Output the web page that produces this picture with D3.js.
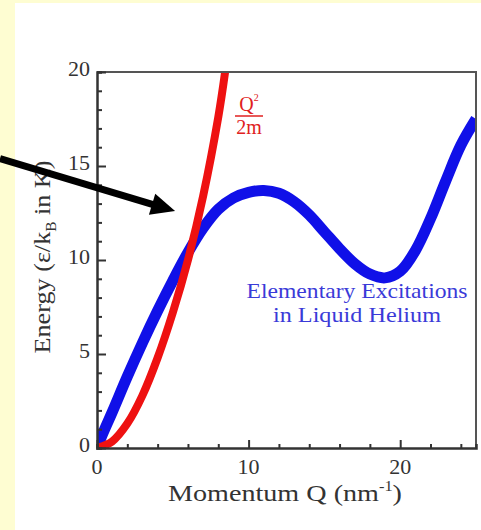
<!DOCTYPE html>
<html>
<head>
    <title>Elementary Excitations in Liquid Helium</title>
    <script src="https://d3js.org/d3.v7.min.js"></script>
    <style>
        body {
            margin: 0;
            background-color: #fefdd2;
        }
        #chart {
            position: absolute;
            left: 15px;
            top: 3px;
            width: 466px;
            height: 527px;
            background-color: white;
        }
        svg {
            position: absolute;
            left: 0;
            top: 0;
        }
        text {
            font-family: "Liberation Serif", "DejaVu Serif", serif;
        }
    </style>
</head>
<body>
    <div id="chart"></div>
    <svg id="plot" width="481" height="530"></svg>
    <script>
        // Data
        const rotonQ = [0, 0.4, 1, 2, 3, 4, 5, 6, 7, 8, 9, 10, 11, 12, 13, 14, 15, 16, 17, 18, 19, 20, 21, 22, 23, 24, 25];
        const rotonE = [0, 0.8, 1.9, 3.8, 5.6, 7.3, 8.9, 10.4, 11.7, 12.7, 13.3, 13.6, 13.7, 13.55, 13.1, 12.4, 11.5, 10.6, 9.8, 9.25, 9.05, 9.4, 10.5, 12.2, 14.2, 16.1, 17.5];
        const freeQ = [0, 1, 2, 3, 4, 5, 6, 7, 8, 8.45];
        const freeE = [0, 0.35, 1.3, 2.8, 4.8, 7.2, 10.0, 13.4, 17.6, 20];
        const xTicks = [0, 10, 20];
        const yTicks = [0, 5, 10, 15, 20];
        const arrowQ = [-6.4, 5.15];
        const arrowE = [15.4, 12.6];

        const margin = {left: 97, top: 72, right: 5, bottom: 82};
        const W = 481, H = 530;

        const x = d3.scaleLinear().domain([0, 25]).range([margin.left, W - margin.right]);
        const y = d3.scaleLinear().domain([0, 20]).range([H - margin.bottom, margin.top]);

        const svg = d3.select('#plot');

        // clip for curves
        svg.append('defs').append('clipPath').attr('id', 'clip')
            .append('rect')
            .attr('x', x(0)).attr('y', y(20))
            .attr('width', x(25) - x(0)).attr('height', y(0) - y(20));

        const line = d3.line()
            .x(d => x(d[0]))
            .y(d => y(d[1]))
            .curve(d3.curveCatmullRom);

        const curves = svg.append('g').attr('clip-path', 'url(#clip)');

        curves.append('path')
            .datum(rotonQ.map((q, i) => [q, rotonE[i]]))
            .attr('d', line)
            .attr('fill', 'none')
            .attr('stroke', '#1010e8')
            .attr('stroke-width', 11);

        curves.append('path')
            .datum(freeQ.map((q, i) => [q, freeE[i]]))
            .attr('d', line)
            .attr('fill', 'none')
            .attr('stroke', '#ee1111')
            .attr('stroke-width', 8);

        // frame: top and right
        svg.append('path')
            .attr('d', `M${x(0)},${y(20)}H${x(25)}V${y(0)}`)
            .attr('fill', 'none')
            .attr('stroke', '#555')
            .attr('stroke-width', 2);

        // axes with inward ticks
        const xAxis = d3.axisTop(x).tickValues(d3.range(0, 26, 2)).tickSize(4).tickFormat('');
        const gx = svg.append('g').attr('transform', `translate(0,${y(0)})`).call(xAxis);
        gx.selectAll('.tick line').filter(d => d % 10 === 0).attr('y2', -8);

        const yAxis = d3.axisRight(y).tickValues(d3.range(0, 21, 1)).tickSize(5).tickFormat('');
        const gy = svg.append('g').attr('transform', `translate(${x(0)},0)`).call(yAxis);
        gy.selectAll('.tick line').filter(d => d % 5 === 0).attr('x2', 9);

        [gx, gy].forEach(g => {
            g.select('.domain').attr('stroke', '#333').attr('stroke-width', 2.5);
            g.selectAll('.tick line').attr('stroke', '#333').attr('stroke-width', 2);
        });

        // tick labels
        svg.append('g').selectAll('text')
            .data(xTicks)
            .enter()
            .append('text')
            .attr('x', d => x(d))
            .attr('y', y(0) + 26)
            .attr('text-anchor', 'middle')
            .attr('font-size', 22)
            .attr('fill', '#333')
            .text(d => d);

        svg.append('g').selectAll('text')
            .data(yTicks)
            .enter()
            .append('text')
            .attr('x', x(0) - 7)
            .attr('y', d => y(d) + 4)
            .attr('text-anchor', 'end')
            .attr('font-size', 22)
            .attr('fill', '#333')
            .text(d => d);

        // axis titles
        const xt = svg.append('text')
            .attr('x', 285)
            .attr('y', 501)
            .attr('text-anchor', 'middle')
            .attr('font-size', 24)
            .attr('fill', '#333')
            .attr('textLength', 234)
            .attr('lengthAdjust', 'spacingAndGlyphs');
        xt.append('tspan').text('Momentum Q (nm');
        xt.append('tspan').attr('font-size', 14).attr('dy', -10).text('-1');
        xt.append('tspan').attr('dy', 10).text(')');

        const yt = svg.append('text')
            .attr('transform', 'translate(50,257) rotate(-90)')
            .attr('text-anchor', 'middle')
            .attr('font-size', 24)
            .attr('fill', '#333')
            .attr('textLength', 193)
            .attr('lengthAdjust', 'spacingAndGlyphs');
        yt.append('tspan').text('Energy (ε/k');
        yt.append('tspan').attr('font-size', 14).attr('dy', 6).text('B');
        yt.append('tspan').attr('dy', -6).text(' in K)');

        // Q^2/2m label
        const fx = 249;
        const q2 = svg.append('text')
            .attr('x', fx)
            .attr('y', 111)
            .attr('text-anchor', 'middle')
            .attr('font-size', 20)
            .attr('fill', '#e02020');
        q2.append('tspan').text('Q');
        q2.append('tspan').attr('font-size', 10).attr('dy', -10).text('2');
        svg.append('line')
            .attr('x1', fx - 14).attr('x2', fx + 14)
            .attr('y1', 116).attr('y2', 116)
            .attr('stroke', '#e02020').attr('stroke-width', 1.5);
        svg.append('text')
            .attr('x', fx)
            .attr('y', 134)
            .attr('text-anchor', 'middle')
            .attr('font-size', 20)
            .attr('fill', '#e02020')
            .text('2m');

        // blue annotation
        const noteLines = ['Elementary Excitations', 'in Liquid Helium'];
        const noteWidths = [221, 168];
        svg.append('g').selectAll('text')
            .data(noteLines)
            .enter()
            .append('text')
            .attr('x', 357)
            .attr('y', (d, i) => 298 + i * 24)
            .attr('text-anchor', 'middle')
            .attr('font-size', 22)
            .attr('fill', '#3a3ad8')
            .attr('textLength', (d, i) => noteWidths[i])
            .attr('lengthAdjust', 'spacingAndGlyphs')
            .text(d => d);

        // arrow
        const ax0 = x(arrowQ[0]), ay0 = y(arrowE[0]);
        const ax1 = x(arrowQ[1]), ay1 = y(arrowE[1]);
        const ang = Math.atan2(ay1 - ay0, ax1 - ax0);
        const headL = 24, headW = 11;
        const bx = ax1 - headL * Math.cos(ang), by = ay1 - headL * Math.sin(ang);
        svg.append('line')
            .attr('x1', ax0).attr('y1', ay0)
            .attr('x2', bx + 2 * Math.cos(ang)).attr('y2', by + 2 * Math.sin(ang))
            .attr('stroke', 'black')
            .attr('stroke-width', 7);
        svg.append('path')
            .attr('d', `M${ax1},${ay1}L${bx - headW * Math.sin(ang)},${by + headW * Math.cos(ang)}L${bx + headW * Math.sin(ang)},${by - headW * Math.cos(ang)}Z`)
            .attr('fill', 'black');
    </script>
</body>
</html>
